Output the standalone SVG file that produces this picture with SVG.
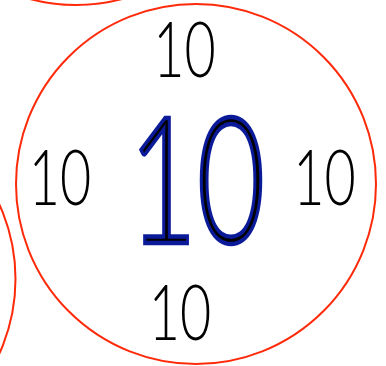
<svg xmlns="http://www.w3.org/2000/svg" width="386" height="366" viewBox="0 0 386 366">
<style>
.c{fill:none;stroke:#ff2a0a;stroke-width:2}
.t{font-family:Lato,"Liberation Sans",Arial,sans-serif;font-weight:300;font-size:77px;fill:#000;text-anchor:middle}
.big{font-family:Lato,"Liberation Sans",Arial,sans-serif;font-weight:300;font-size:175px;fill:#000;stroke:#0a1a99;stroke-width:4.5;text-anchor:middle}
</style>
<g id="circle-top"><circle class="c" cx="76" cy="-175" r="180"/></g>
<g id="circle-left"><circle class="c" cx="-164.5" cy="279" r="180"/></g>
<g id="circle-main"><circle class="c" cx="196" cy="184" r="180"/></g>
<g id="label-top"><text class="t" transform="translate(184.5,77) scale(0.7,1)">10</text></g>
<g id="label-left"><text class="t" transform="translate(60,205) scale(0.7,1)">10</text></g>
<g id="label-right"><text class="t" transform="translate(324.5,205) scale(0.7,1)">10</text></g>
<g id="label-bottom"><text class="t" transform="translate(180,340) scale(0.7,1)">10</text></g>
<g id="label-center"><text class="big" transform="translate(197,243) scale(0.67,1)">10</text></g>
</svg>
